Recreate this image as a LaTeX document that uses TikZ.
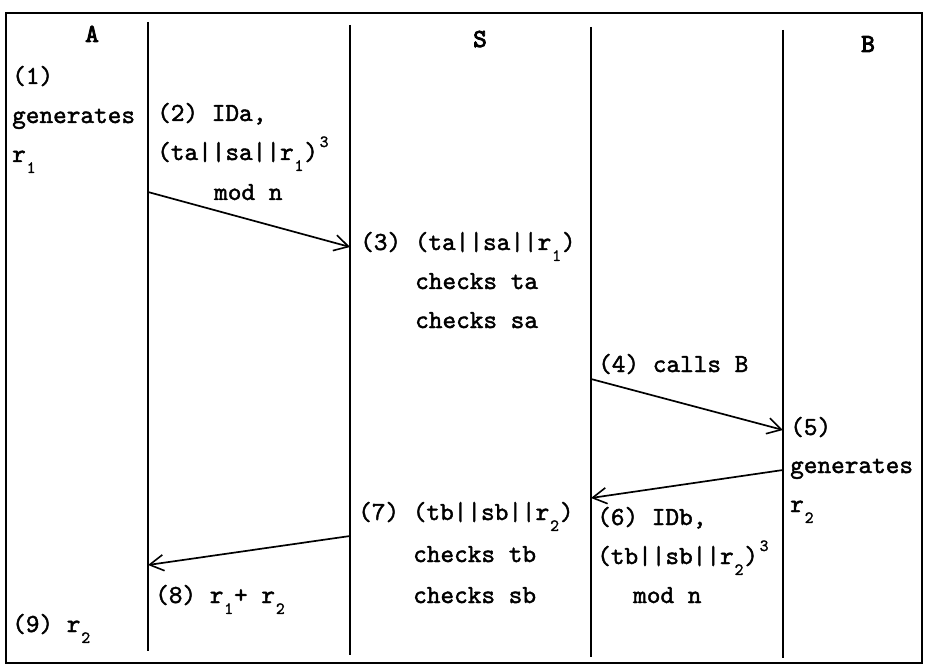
\documentclass[tikz,border=0pt]{standalone}
\usepackage{fontspec}
\usetikzlibrary{arrows.meta}
\newfontfamily\twfont{lmmono10-regular.otf}[FakeBold=1.6]
\newfontfamily\twhead{lmmono10-regular.otf}[FakeBold=3.5]
\newcommand\rsub[1]{\raisebox{-0.42em}{\fontsize{17}{17}\selectfont\kern0.05em#1\kern0.05em}}
\newcommand\rsup[1]{\raisebox{0.5em}{\fontsize{17}{17}\selectfont\kern0.1em#1}}
\tikzset{
  txt/.style={inner sep=0pt, font=\twfont\fontsize{26}{26}\selectfont},
  lt/.style={txt, anchor=base west},
  hd/.style={inner sep=0pt, anchor=base, font=\twhead\fontsize{26}{26}\selectfont},
  frame/.style={line width=2.2pt},
  life/.style={line width=1.6pt},
  msg/.style={line width=1.7pt, -{Straight Barb[length=14pt,width=16pt,line width=1.6pt]}},
}
\begin{document}
\begin{tikzpicture}[x=1pt,y=-1pt]
\useasboundingbox (0,0) rectangle (926,668);
\draw[frame] (6,13) rectangle (922,663);
% lifelines
\coordinate (l1t) at (148,22); \coordinate (l1b) at (148,651);
\coordinate (l2t) at (350,25); \coordinate (l2b) at (350,655);
\coordinate (l3t) at (591,27); \coordinate (l3b) at (591,657);
\coordinate (l4t) at (783,30); \coordinate (l4b) at (783,658);
\draw[life] (l1t) -- (l1b);
\draw[life] (l2t) -- (l2b);
\draw[life] (l3t) -- (l3b);
\draw[life] (l4t) -- (l4b);
% message end points
\coordinate (m2s) at (148,192); \coordinate (m2e) at (350,247);
\coordinate (m4s) at (591,379); \coordinate (m4e) at (783,430);
\coordinate (m6s) at (783,470); \coordinate (m6e) at (591,498);
\coordinate (m8s) at (350,536); \coordinate (m8e) at (148,565);
\draw[msg] (m2s) -- (m2e);
\draw[msg] (m4s) -- (m4e);
\draw[msg] (m6s) -- (m6e);
\draw[msg] (m8s) -- (m8e);
% headers
\node[hd] (labA) at (92,42) {A};
\node[hd] (labS) at (480,47) {S};
\node[hd] (labB) at (868,52) {B};
% texts
\node[lt] (t1a) at (12,84) {(1)};
\node[lt] (t1b) at (12,123) {generates};
\node[lt] (t1c) at (12,162) {r\rsub{1}};
\node[lt] (t2a) at (157,121) {(2) IDa,};
\node[lt] (t2b) at (157,160) {(ta||sa||r\rsub{1})\rsup{3}};
\node[lt] (t2c) at (214,200) {mod n};
\node[lt] (t3a) at (360,250) {(3) (ta||sa||r\rsub{1})};
\node[lt] (t3b) at (415,289) {checks ta};
\node[lt] (t3c) at (415,328) {checks sa};
\node[lt] (t4) at (598,372) {(4) calls B};
\node[lt] (t5a) at (790,435) {(5)};
\node[lt] (t5b) at (790,473) {generates};
\node[lt] (t5c) at (790,512) {r\rsub{2}};
\node[lt] (t6a) at (597,525) {(6) IDb,};
\node[lt] (t6b) at (597,564) {(tb||sb||r\rsub{2})\rsup{3}};
\node[lt] (t6c) at (633,603) {mod n};
\node[lt] (t7a) at (358,520) {(7) (tb||sb||r\rsub{2})};
\node[lt] (t7b) at (413,562) {checks tb};
\node[lt] (t7c) at (413,603) {checks sb};
\node[lt] (t8) at (155,603) {(8) r\rsub{1}+ r\rsub{2}};
\node[lt] (t9) at (12,632) {(9) r\rsub{2}};
\end{tikzpicture}
\end{document}
